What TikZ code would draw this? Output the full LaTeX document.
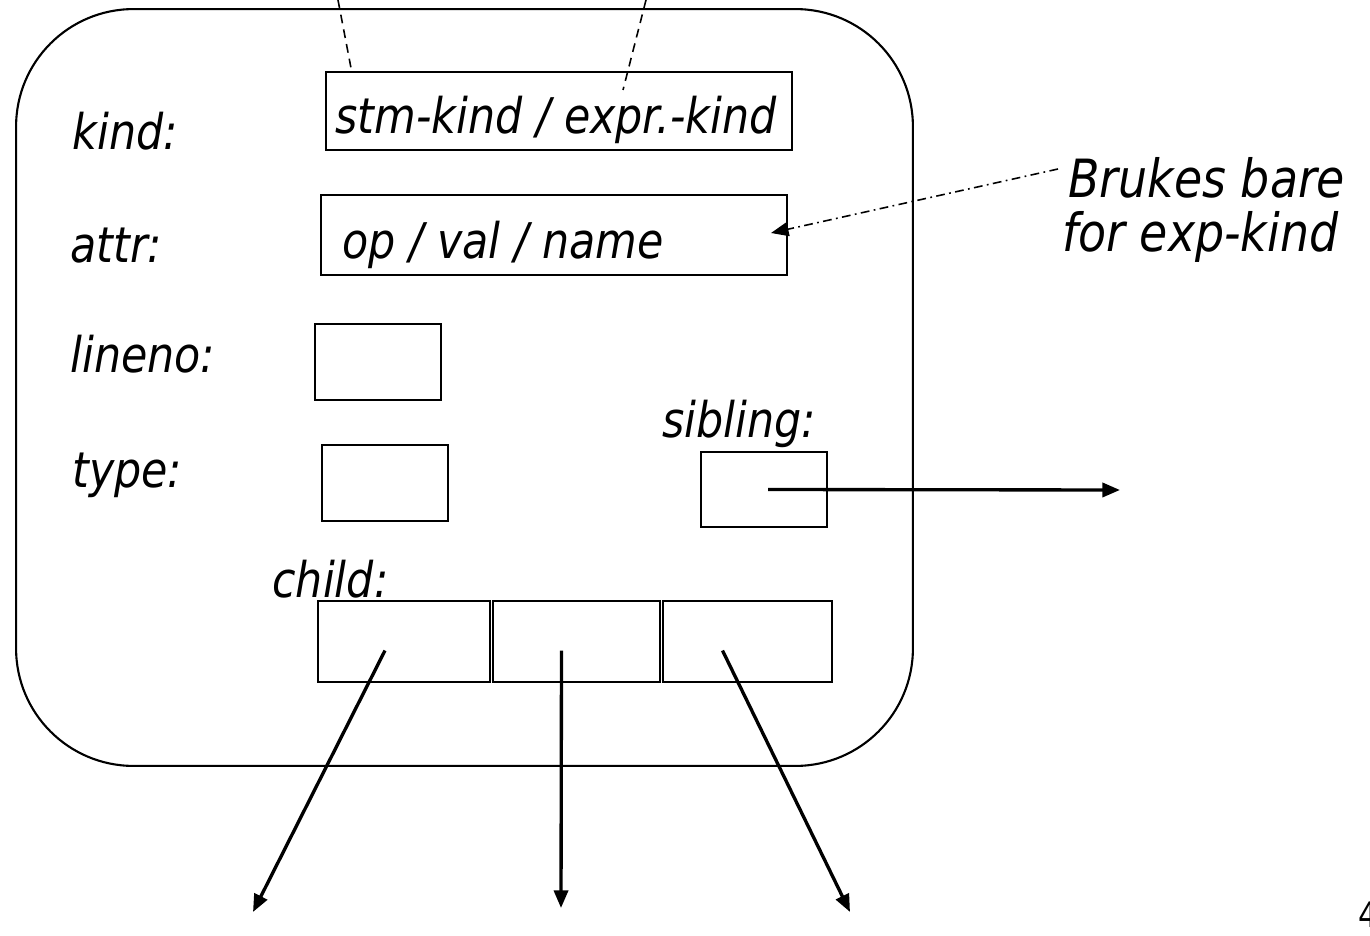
\documentclass[tikz,border=0pt]{standalone}
\usepackage{fontspec}
\setmainfont{DejaVu Sans}[FakeStretch=0.87]
\usetikzlibrary{arrows.meta}

\tikzset{
  field/.style={draw, line width=1.1pt, inner sep=0pt},
  lbl/.style={anchor=base west, inner sep=0pt, font=\fontsize{28}{34}\selectfont\itshape},
  ptr/.style={line width=1.9pt, -{Triangle[length=10pt, width=8pt]}}
}

\begin{document}
\begin{tikzpicture}[x=0.02cm, y=-0.02cm]
  \useasboundingbox (0,0) rectangle (1370,936);

  % Selve noden
  \node (treenode) [draw, line width=1.2pt, rounded corners=2.35cm,
    minimum width=17.94cm, minimum height=15.14cm] at (464.5,387.5) {};

  % Feltnavn
  \node[lbl] (kindlbl) at (72,150) {kind:};
  \node[lbl] (attrlbl) at (70,262) {attr:};
  \node[lbl] (linenolbl) at (70,372) {lineno:};
  \node[lbl] (typelbl) at (72,487) {type:};
  \node[lbl] (siblinglbl) at (662,437) {sibling:};
  \node[lbl] (childlbl) at (272,597) {child:};

  % Feltene
  \node[field, minimum width=9.32cm, minimum height=1.56cm] (kindbox) at (559,111) {};
  \node[lbl] (kindtxt) at (335,133) {stm-kind / expr.-kind};
  \node[field, minimum width=9.32cm, minimum height=1.6cm] (attrbox) at (554,235) {};
  \node[lbl] (attrtxt) at (342,258) {op / val / name};
  \node[field, minimum width=2.52cm, minimum height=1.52cm] (linenobox) at (378,362) {};
  \node[field, minimum width=2.52cm, minimum height=1.52cm] (typebox) at (385,483) {};
  \node[field, minimum width=2.52cm, minimum height=1.5cm] (siblingbox) at (764,489.5) {};
  \node[field, minimum width=3.44cm, minimum height=1.62cm] (childA) at (404,641.5) {};
  \node[field, minimum width=3.34cm, minimum height=1.62cm] (childB) at (576.5,641.5) {};
  \node[field, minimum width=3.38cm, minimum height=1.62cm] (childC) at (747.5,641.5) {};

  % Forklaring til høyre
  \node[lbl, font=\fontsize{30}{36}\selectfont\itshape] (note1) at (1068,197) {Brukes bare};
  \node[lbl, font=\fontsize{30}{36}\selectfont\itshape] (note2) at (1062,252) {for exp-kind};

  % Stiplede linjer inn ovenfra
  \coordinate (topA) at (338,0);
  \coordinate (topB) at (646,0);
  \coordinate (endA) at (351,68);
  \coordinate (endB) at (623,90);
  \draw[line width=0.9pt, dash pattern=on 5pt off 3.5pt] (topA) -- (endA);
  \draw[line width=0.9pt, dash pattern=on 5pt off 3.5pt] (topB) -- (endB);

  % Pil til attr-feltet
  \coordinate (noteend) at (1058,169);
  \draw[line width=0.9pt, dash pattern=on 5pt off 2.5pt on 1pt off 2.5pt,
    -{Triangle[length=10pt, width=8pt]}] (noteend) -- (771,233);

  % Pekere
  \coordinate (sibend) at (1120,490);
  \coordinate (endchildA) at (253,912);
  \coordinate (endchildB) at (561,908);
  \coordinate (endchildC) at (850,912);
  \draw[ptr] (siblingbox.center) ++(4,0) -- (sibend);
  \draw[ptr] (childA.center) ++(-19,9) -- (endchildA);
  \draw[ptr] (childB.center) ++(-15,9) -- (endchildB);
  \draw[ptr] (childC.center) ++(-25,9) -- (endchildC);

  % Sidenummer (kuttet)
  \node[anchor=base west, inner sep=0pt, font=\fontsize{20}{24}\selectfont] (pagenum) at (1358,927) {4};
\end{tikzpicture}
\end{document}
